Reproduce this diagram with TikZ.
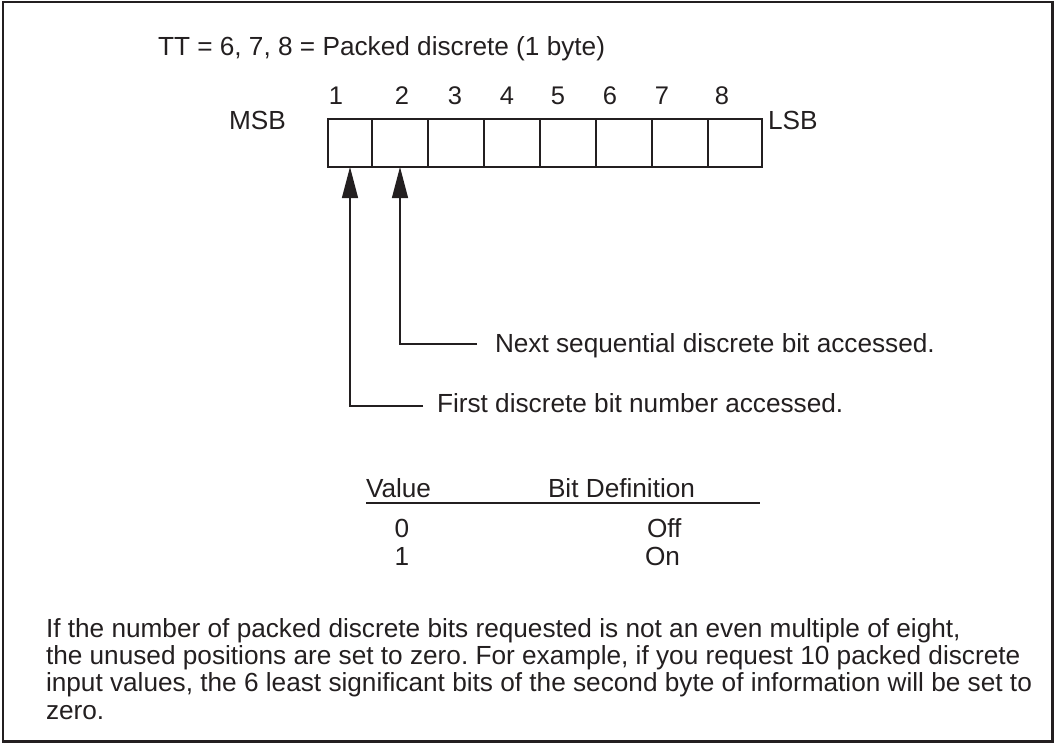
\documentclass[tikz,border=0pt]{standalone}
\usepackage{fontspec}
\setmainfont{Liberation Sans}
\usetikzlibrary{positioning,arrows.meta}
\definecolor{ink}{RGB}{35,31,32}
\frenchspacing

\tikzset{
  txt/.style={inner sep=0pt,outer sep=0pt,text=ink,font=\fontsize{26.2}{27.4}\selectfont},
  numtxt/.style={txt,anchor=base,font=\fontsize{25.5}{27}\selectfont},
  bitcell/.style={draw=ink,line width=1.3pt,minimum height=48pt,inner sep=0pt,outer sep=0pt},
  pointer/.style={draw=ink,line width=1.3pt,-{Triangle[length=31pt,width=16pt]}},
  frame/.style={draw=ink,line width=2.5pt}
}

\begin{document}
\begin{tikzpicture}[x=1pt,y=-1pt]

\useasboundingbox (0,0) rectangle (1057,744);
\draw[frame] (3,2) rectangle (1052.5,741.5);

\node[txt,anchor=base west] (title) at (158,55) {TT = 6, 7, 8 = Packed discrete (1 byte)};

% draw the byte
\def\cellEdges{328/372,372/428,428/484,484/540,540/596,596/652,652/708,708/762}
\foreach \l/\r [count=\ni] in \cellEdges
{
\pgfmathsetmacro\cWidth{\r-\l}
\node[bitcell,minimum width=\cWidth pt] (bit\ni) at ({(\l+\r)/2},143) {};
}

% bit numbers
\def\bitLabelX{336,402,455,507,558,610,662,722}
\foreach \x [count=\ni] in \bitLabelX
\node[numtxt] (num\ni) at (\x,104) {\ni};

\node[txt,anchor=base west] (msb) at (229,129.3) {MSB};
\node[txt,anchor=base west] (lsb) at (768,129.3) {LSB};

% draw the pointers
\coordinate (nextEnd) at (477,344);
\coordinate (firstEnd) at (423,406);
\draw[pointer] (nextEnd) -| (bit2.south);
\draw[pointer] (firstEnd) -| (bit1.south);
\node[txt,anchor=base west] (nextTxt) at (495,352.7) {Next sequential discrete bit accessed.};
\node[txt,anchor=base west] (firstTxt) at (437,412.3) {First discrete bit number accessed.};

% value table
\node[txt,anchor=base west] (valHead) at (366,497) {Value};
\node[txt,anchor=base west] (defHead) at (548,497) {Bit Definition};
\coordinate (ruleL) at (366,503);
\coordinate (ruleR) at (760,503);
\draw[ink,line width=1.6pt] (ruleL) -- (ruleR);
\node[txt,anchor=base] (val0) at (402,537) {0};
\node[txt,anchor=base] (val1) at (402,565) {1};
\node[txt,anchor=base west] (defOff) at (647,537) {Off};
\node[txt,anchor=base west] (defOn) at (645,565) {On};

% note text
\def\noteLines{
{If the number of packed discrete bits requested is not an even multiple of eight,},
{the unused positions are set to zero. For example, if you request 10 packed discrete},
{input values, the 6 least significant bits of the second byte of information will be set to},
{zero.}
}
\foreach \n [count=\ni] in \noteLines
\node[txt,anchor=base west] (note\ni) at (46,{637+(\ni-1)*27.35}) {\n};

\end{tikzpicture}
\end{document}
